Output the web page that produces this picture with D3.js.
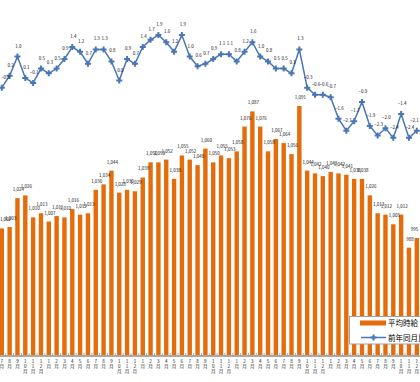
<!DOCTYPE html>
<html><head><meta charset="utf-8">
<script src="https://cdn.jsdelivr.net/npm/d3@7/dist/d3.min.js"></script>
<style>
html,body{margin:0;padding:0;background:#fff;}
svg{display:block;font-family:"Noto Sans CJK JP","Noto Sans",sans-serif;}
</style></head><body>
<svg id="c" width="420" height="382"></svg>
<script>
const months = ["7","8","9","10","11","12","1","2","3","4","5","6",
  "7","8","9","10","11","12","1","2","3","4","5","6",
  "7","8","9","10","11","12","1","2","3","4","5","6",
  "7","8","9","10","11","12","1","2","3","4","5","6",
  "7","8","9","10","11","12"];
const wages = [1002,1003,1024,1026,1010,1013,1007,1011,1010,1016,1012,1013,
  1030,1034,1044,1028,1030,1029,1039,1050,1050,1052,1038,1055,
  1052,1048,1060,1050,1055,1053,1058,1076,1087,1076,1058,1067,
  1064,1056,1091,1044,1042,1040,1043,1042,1041,1038,1038,1026,
  1013,1012,1005,1012,988,995];
const yoy = [-0.3,0.2,1.0,0.1,-0.1,0.5,0.3,0.5,0.9,1.4,1.2,0.7,
  1.3,1.3,0.8,0.0,0.9,0.7,1.4,1.7,1.9,1.6,1.2,1.9,
  1.0,0.6,0.7,0.9,1.1,1.1,0.8,1.2,1.6,1.0,0.8,0.5,
  0.5,0.3,1.3,-0.3,-0.6,-0.6,-0.7,-1.6,-2.1,-1.7,-0.9,-1.9,
  -2.3,-2.0,-2.4,-1.4,-2.4,-2.1];
const legendNames = ["平均時給","前年同月比"];

const svg = d3.select("#c");
const idx = d3.range(months.length);
const step = 7.83, x0 = -2.11;
const x = d3.scaleBand().domain(idx).range([x0, x0 + step*idx.length])
  .paddingInner(0.44).paddingOuter(0.22);
const baseY = 355;
const yBar = d3.scaleLinear().domain([910, 1100]).range([baseY, baseY - 190*1.376]);
const yLine = d3.scaleLinear().domain([0, 1]).range([80.5, 80.5 - 23.9]);

const orange = "#e46c0a", blue = "#4a76b4";
const clampX = v => Math.max(5.5, Math.min(414.5, v));

// bars
svg.append("g").selectAll("rect").data(idx).join("rect")
  .attr("x", i => x(i)).attr("width", x.bandwidth())
  .attr("y", i => yBar(wages[i])).attr("height", i => baseY - yBar(wages[i]))
  .attr("fill", orange);

// axis line and ticks
const gap = (x.step() - x.bandwidth())/2;
svg.append("line").attr("x1",0).attr("x2",420).attr("y1",baseY+1).attr("y2",baseY+1)
  .attr("stroke","#8c8c8c").attr("stroke-width",1.3);
svg.append("g").selectAll("line").data(idx).join("line")
  .attr("x1", i => x(i) - gap).attr("x2", i => x(i) - gap)
  .attr("y1", baseY - 2).attr("y2", baseY + 1)
  .attr("stroke","#999").attr("stroke-width",0.8);

// category labels (stacked vertical)
const cat = svg.append("g").attr("font-size", 4.6).attr("fill","#222").attr("text-anchor","middle");
idx.forEach(i => {
  const chars = (months[i] + "月").split("");
  const cxp = x(i) + x.bandwidth()/2;
  const t = cat.append("text").attr("x", cxp);
  chars.forEach((ch, k) => {
    t.append("tspan").attr("x", cxp).attr("y", 363 + k*4.8).text(ch);
  });
});

// bar labels
svg.append("g").attr("font-size", 4.5).attr("fill","#111").attr("text-anchor","middle")
  .selectAll("text").data(idx).join("text")
  .attr("x", i => clampX(x(i) + x.bandwidth()/2 + 1))
  .attr("y", i => yBar(wages[i]) - 7)
  .text(i => d3.format(",")(wages[i]));

// line
const cx = i => x(i) + x.bandwidth()/2;
svg.append("path").datum(idx)
  .attr("d", d3.line().x(cx).y(i => yLine(yoy[i])))
  .attr("fill","none").attr("stroke", blue).attr("stroke-width", 1.5);
svg.append("g").selectAll("path").data(idx).join("path")
  .attr("transform", i => `translate(${cx(i)},${yLine(yoy[i])})`)
  .attr("d", d3.symbol(d3.symbolCross, 20))
  .attr("fill", blue);

// line labels
svg.append("g").attr("font-size", 4.5).attr("fill","#111").attr("text-anchor","middle")
  .selectAll("text").data(idx).join("text")
  .attr("x", i => clampX(cx(i) + 1))
  .attr("y", i => yLine(yoy[i]) - 9)
  .text(i => d3.format(".1f")(yoy[i]));

// legend
const lg = svg.append("g");
lg.append("rect").attr("x",349.5).attr("y",316.5).attr("width",80).attr("height",27.5)
  .attr("fill","#fff").attr("stroke","#a0a0a0").attr("stroke-width",1);
lg.append("rect").attr("x",360).attr("y",320.5).attr("width",26).attr("height",5).attr("fill",orange);
lg.append("text").attr("x",388).attr("y",326).attr("font-size",7.5).attr("fill","#000").text(legendNames[0]);
lg.append("line").attr("x1",361).attr("x2",386).attr("y1",337.5).attr("y2",337.5)
  .attr("stroke",blue).attr("stroke-width",1.5);
lg.append("path").attr("transform","translate(373.5,337.5)").attr("d", d3.symbol(d3.symbolCross, 20)).attr("fill",blue);
lg.append("text").attr("x",388).attr("y",340.5).attr("font-size",7.5).attr("fill","#000").text(legendNames[1]);
</script>
</body></html>
